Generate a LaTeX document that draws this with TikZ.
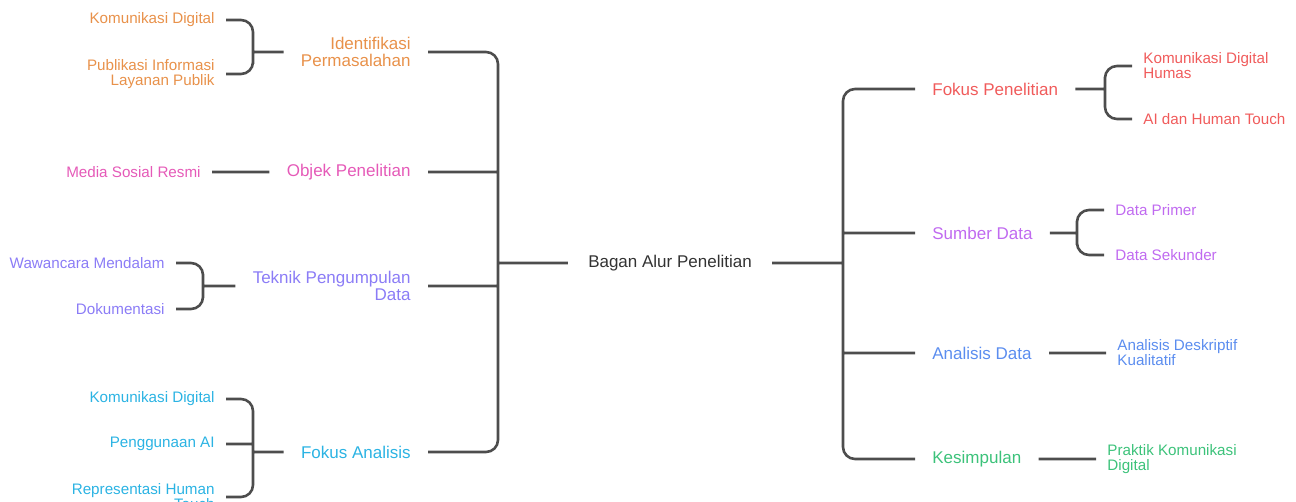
\documentclass[tikz,border=0pt]{standalone}
\usepackage{fontspec}
\setmainfont{Liberation Sans}
\usetikzlibrary{positioning}
\definecolor{cline}{HTML}{4D4D4D}
\definecolor{corange}{HTML}{E8914A}
\definecolor{cpink}{HTML}{E55AB8}
\definecolor{cviolet}{HTML}{8B7CF6}
\definecolor{ccyan}{HTML}{2BB3E3}
\definecolor{cred}{HTML}{F05B5B}
\definecolor{cpurple}{HTML}{C06AF0}
\definecolor{cblue}{HTML}{5B8DEF}
\definecolor{cgreen}{HTML}{3CC27A}
\tikzset{topic/.style={
        inner xsep=8.5pt,
        inner ysep=1pt,
        font=\fontsize{8.5}{8.5}\selectfont } }
\tikzset{leaf/.style={
        inner xsep=5.5pt,
        inner ysep=1pt,
        font=\fontsize{7.6}{7.5}\selectfont } }
\tikzset{link/.style={
        draw=cline,
        line width=1.3pt,
        rounded corners=6pt } }

\begin{document}
\begin{tikzpicture}[x=0.5pt,y=-0.5pt]
\clip (0,0) rectangle (1296,502);

\node[topic, inner xsep=10pt, text=black!80] (root) at (670,263) {Bagan Alur Penelitian};
\coordinate (trL) at (498,263);
\coordinate (trR) at (843,263);

% left side
\node[topic, anchor=east, align=right, text=corange] (idf) at (428,52) {Identifikasi\\Permasalahan};
\node[leaf, anchor=east, text=corange] (idfA) at (226,20) {Komunikasi Digital};
\node[leaf, anchor=east, align=right, text=corange] (idfB) at (226,74) {Publikasi Informasi\\Layanan Publik};
\coordinate (idfJ) at (253,52);

\node[topic, anchor=east, text=cpink] (obj) at (428,172) {Objek Penelitian};
\node[leaf, anchor=east, text=cpink] (objA) at (212,172) {Media Sosial Resmi};

\node[topic, anchor=east, align=right, text=cviolet] (tek) at (428,286) {Teknik Pengumpulan\\Data};
\node[leaf, anchor=east, text=cviolet] (tekA) at (176,263) {Wawancara Mendalam};
\node[leaf, anchor=east, text=cviolet] (tekB) at (176,309) {Dokumentasi};
\coordinate (tekJ) at (203,286);

\node[topic, anchor=east, text=ccyan] (fa) at (428,452) {Fokus Analisis};
\node[leaf, anchor=east, text=ccyan] (faA) at (226,399) {Komunikasi Digital};
\node[leaf, anchor=east, text=ccyan] (faB) at (226,444) {Penggunaan AI};
\node[leaf, anchor=east, align=right, text=ccyan] (faC) at (226,497) {Representasi Human\\Touch};
\coordinate (faJ) at (253,452);

% right side
\node[topic, anchor=west, text=cred] (fp) at (915,89) {Fokus Penelitian};
\node[leaf, anchor=west, align=left, text=cred] (fpA) at (1132,66) {Komunikasi Digital\\Humas};
\node[leaf, anchor=west, text=cred] (fpB) at (1132,119) {AI dan Human Touch};
\coordinate (fpJ) at (1105,89);

\node[topic, anchor=west, text=cpurple] (sd) at (915,233) {Sumber Data};
\node[leaf, anchor=west, text=cpurple] (sdA) at (1104,210) {Data Primer};
\node[leaf, anchor=west, text=cpurple] (sdB) at (1104,255) {Data Sekunder};
\coordinate (sdJ) at (1077,233);

\node[topic, anchor=west, text=cblue] (ad) at (915,353) {Analisis Data};
\node[leaf, anchor=west, align=left, text=cblue] (adA) at (1106,353) {Analisis Deskriptif\\Kualitatif};

\node[topic, anchor=west, text=cgreen] (ks) at (915,459) {Kesimpulan};
\node[leaf, anchor=west, align=left, text=cgreen] (ksA) at (1096,459) {Praktik Komunikasi\\Digital};

\path[link]
(root.west) -- (trL)
(idf.east) -| (trL) |- (fa.east)
(obj.east) -- (obj.east -| trL)
(tek.east) -- (tek.east -| trL)

(idf.west) -- (idfJ)
(idfA.east) -| (idfJ) |- (idfB.east)
(objA.east) -- (obj.west)
(tek.west) -- (tekJ)
(tekA.east) -| (tekJ) |- (tekB.east)
(fa.west) -- (faJ)
(faA.east) -| (faJ) |- (faC.east)
(faB.east) -- (faB.east -| faJ)

(root.east) -- (trR)
(fp.west) -| (trR) |- (ks.west)
(sd.west) -- (sd.west -| trR)
(ad.west) -- (ad.west -| trR)

(fp.east) -- (fpJ)
(fpA.west) -| (fpJ) |- (fpB.west)
(sd.east) -- (sdJ)
(sdA.west) -| (sdJ) |- (sdB.west)
(ad.east) -- (adA.west)
(ks.east) -- (ksA.west)
;

\end{tikzpicture}
\end{document}
